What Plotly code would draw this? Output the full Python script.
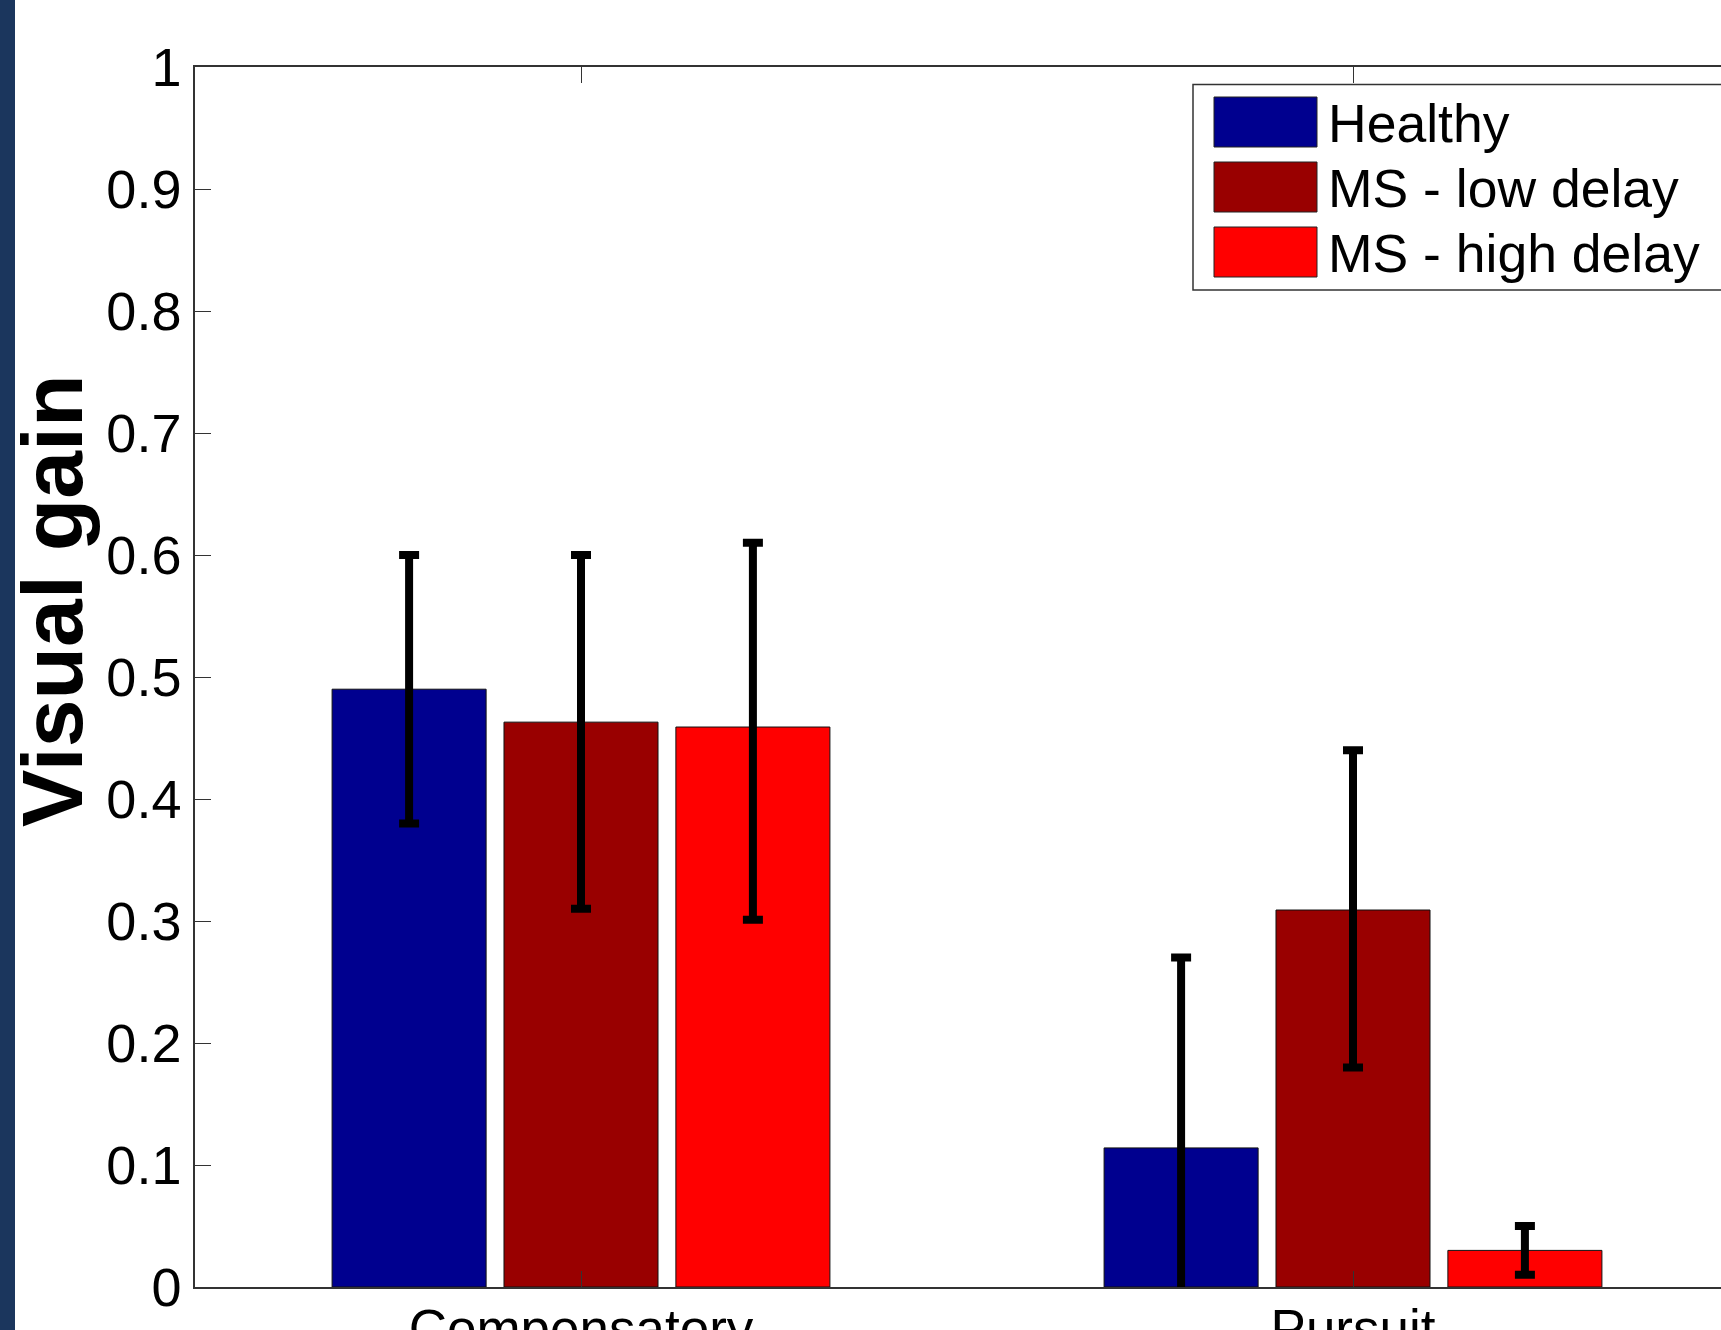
import plotly.graph_objects as go

# ---- data ----
categories = ["Compensatory", "Pursuit"]
groups = ["Healthy", "MS - low delay", "MS - high delay"]
healthy = [0.490, 0.114]
ms_low = [0.463, 0.309]
ms_high = [0.459, 0.030]
healthy_err_plus = [0.110, 0.156]
healthy_err_minus = [0.110, 0.156]
ms_low_err_plus = [0.137, 0.131]
ms_low_err_minus = [0.153, 0.129]
ms_high_err_plus = [0.151, 0.020]
ms_high_err_minus = [0.158, 0.020]
ytick_vals = [0, 0.1, 0.2, 0.3, 0.4, 0.5, 0.6, 0.7, 0.8, 0.9, 1]
ytick_text = ["0", "0.1", "0.2", "0.3", "0.4", "0.5", "0.6", "0.7", "0.8", "0.9", "1"]

colors = ["#00008F", "#990000", "#FF0000"]
values = [healthy, ms_low, ms_high]
err_plus = [healthy_err_plus, ms_low_err_plus, ms_high_err_plus]
err_minus = [healthy_err_minus, ms_low_err_minus, ms_high_err_minus]

W, H = 1721, 1330
ML, MR, MT, MB = 195, 0, 67, 43
PW, PH = W - ML - MR, H - MT - MB
FONT = "Liberation Sans, Arial, sans-serif"

def px_x(x):
    return (x - ML) / PW

def px_y(y):
    return (H - MB - y) / PH

xpos = list(range(1, len(categories) + 1))

fig = go.Figure()
for name, vals, col, ep, em in zip(groups, values, colors, err_plus, err_minus):
    fig.add_trace(go.Bar(
        x=xpos, y=vals, name=name,
        marker=dict(color=col, line=dict(color="#111111", width=1)),
        error_y=dict(type="data", symmetric=False, array=ep, arrayminus=em,
                     color="black", thickness=8, width=10),
        showlegend=False,
    ))

shapes = []
annotations = []
# left dark strip
shapes.append(dict(type="rect", xref="paper", yref="paper",
                   x0=px_x(0), x1=px_x(15), y0=px_y(H), y1=px_y(0),
                   fillcolor="#1B365D", line=dict(width=0), layer="below"))
# legend box
shapes.append(dict(type="rect", xref="paper", yref="paper",
                   x0=px_x(1193), x1=px_x(1760), y0=px_y(290), y1=px_y(84.5),
                   fillcolor="white", line=dict(color="#333333", width=1.5)))
row_centers = [122, 187, 252]
for name, col, yc in zip(groups, colors, row_centers):
    shapes.append(dict(type="rect", xref="paper", yref="paper",
                       x0=px_x(1214), x1=px_x(1317), y0=px_y(yc + 25), y1=px_y(yc - 25),
                       fillcolor=col, line=dict(color="#222222", width=1)))
    annotations.append(dict(xref="paper", yref="paper", x=px_x(1326), y=px_y(yc + 2),
                            xanchor="left", yanchor="middle", text=name, showarrow=False,
                            font=dict(family=FONT, size=53.5, color="black")))
# y title
annotations.append(dict(xref="paper", yref="paper", x=px_x(52), y=px_y(601),
                        xanchor="center", yanchor="middle", text="<b>Visual gain</b>",
                        textangle=-90, showarrow=False,
                        font=dict(family=FONT, size=86, color="black")))

fig.update_layout(
    width=W, height=H,
    margin=dict(l=ML, r=MR, t=MT, b=MB, pad=0),
    template="none",
    paper_bgcolor="white", plot_bgcolor="white",
    barmode="group", bargap=0.332, bargroupgap=0.104,
    font=dict(family=FONT, color="black"),
    shapes=shapes, annotations=annotations,
    showlegend=False,
)
fig.update_xaxes(
    range=[0.5, 0.5 + PW / 772.0],
    tickvals=xpos, ticktext=categories,
    ticks="inside", ticklen=16, tickwidth=1, tickcolor="#333333",
    showline=True, linecolor="#333333", linewidth=1.5, mirror="ticks",
    showgrid=False, zeroline=False, automargin=False,
    ticklabelstandoff=-5,
    tickfont=dict(family=FONT, size=53, color="black"),
)
fig.update_yaxes(
    range=[0, 1],
    tickvals=ytick_vals, ticktext=ytick_text,
    ticks="inside", ticklen=16, tickwidth=1, tickcolor="#333333",
    showline=True, linecolor="#333333", linewidth=1.5, mirror=False,
    showgrid=False, zeroline=False, automargin=False,
    ticklabelstandoff=1,
    tickfont=dict(family=FONT, size=54, color="black"),
)

fig.write_html("out.html")
